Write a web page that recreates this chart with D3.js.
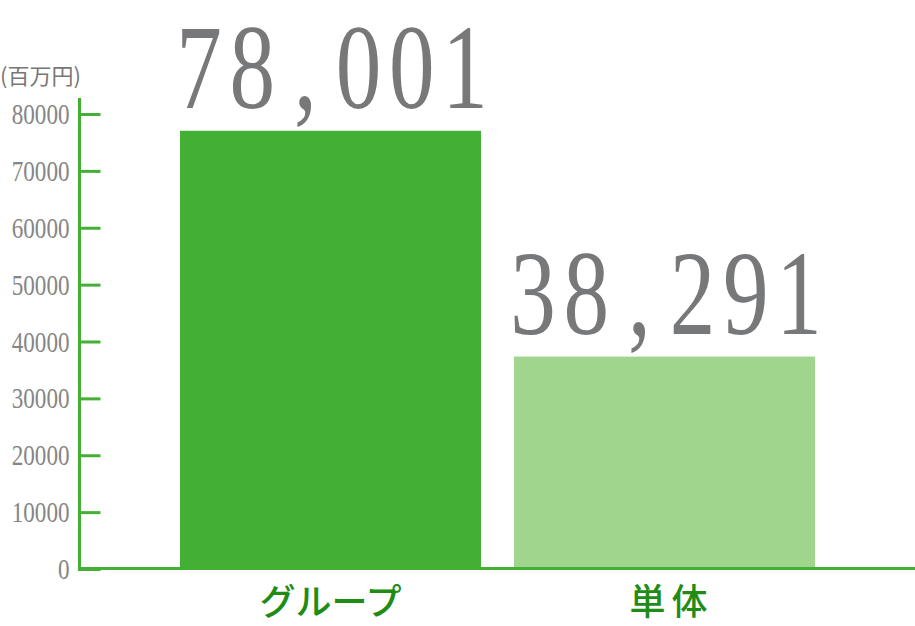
<!DOCTYPE html>
<html>
<head>
<meta charset="utf-8">
<script src="https://cdn.jsdelivr.net/npm/d3@7"></script>
<style>
  body { margin: 0; background: #fff; }
  svg { display: block; }
</style>
</head>
<body>
<div id="chart"></div>
<script>
// data
var categories = ["グループ", "単体"];
var barValues = [77050, 37350];          // bar heights as drawn
var valueLabels = ["78,001", "38,291"];  // printed figures above bars
var tickValues = [0, 10000, 20000, 30000, 40000, 50000, 60000, 70000, 80000];
var unitLabel = "(百万円)";
var barColors = ["#44af35", "#a0d58e"];

var svgWidth = 915;
var svgHeight = 626;

var svg = d3.select("#chart")
    .append("svg")
    .attr("width", svgWidth)
    .attr("height", svgHeight);

// scales
var yScale = d3.scaleLinear()
    .domain([0, 80000])
    .range([569, 114]);

var xScale = d3.scaleBand()
    .domain(categories)
    .range([180, 815])
    .paddingInner(0.0988)
    .paddingOuter(0);

var axisX = 79.5;
var green = "#44af35";

// y axis: ticks point inward, labels on the left
var leftAxis = d3.axisLeft(yScale)
    .tickValues(tickValues)
    .tickSizeInner(-21)
    .tickSizeOuter(0)
    .tickPadding(10)
    .tickFormat(d3.format("d"));

var yAxis = svg.append("g")
    .attr("transform", `translate(${axisX}, 0)`)
    .call(leftAxis);

yAxis.select(".domain").remove();
yAxis.selectAll(".tick line")
    .attr("stroke", green)
    .attr("stroke-width", 3);
yAxis.selectAll(".tick text")
    .attr("fill", "#858585")
    .attr("font-family", "'Liberation Serif', serif")
    .attr("font-size", 30)
    .attr("transform", "scale(0.77,1)")
    .attr("x", -10 / 0.77);

// bars
svg.append("g")
    .selectAll("rect")
    .data(categories)
    .enter()
    .append("rect")
    .attr("x", d => xScale(d))
    .attr("width", xScale.bandwidth())
    .attr("y", (d, i) => yScale(barValues[i]))
    .attr("height", (d, i) => yScale(0) - yScale(barValues[i]))
    .attr("fill", (d, i) => barColors[i]);

// axis lines
svg.append("line")
    .attr("x1", axisX).attr("x2", axisX)
    .attr("y1", 98).attr("y2", yScale(0) + 2)
    .attr("stroke", green)
    .attr("stroke-width", 3);

svg.append("line")
    .attr("x1", axisX - 1.5).attr("x2", svgWidth)
    .attr("y1", yScale(0) - 0.5).attr("y2", yScale(0) - 0.5)
    .attr("stroke", green)
    .attr("stroke-width", 3);

// big value labels, one glyph per slot so the spacing stays even
var valueGroup = svg.append("g");
categories.forEach(function(cat, i) {
    var chars = valueLabels[i].split("");
    var x0 = xScale(cat) + 19;
    var step = (xScale.bandwidth() - 35) / (chars.length - 1);
    var baseline = yScale(barValues[i]) - 23;
    valueGroup.selectAll(".v" + i)
        .data(chars)
        .enter()
        .append("text")
        .attr("transform", (c, j) => `translate(${x0 + j * step}, ${baseline}) scale(0.76,1)`)
        .attr("text-anchor", "middle")
        .attr("font-family", "'Liberation Serif', serif")
        .attr("font-size", 120)
        .attr("fill", "#77787a")
        .text(c => c);
});

// category labels
svg.append("g")
    .selectAll("text")
    .data(categories)
    .enter()
    .append("text")
    .attr("x", d => xScale(d) + xScale.bandwidth() / 2 + (d === "単体" ? 7 : 0))
    .attr("y", 615)
    .attr("text-anchor", "middle")
    .attr("font-family", "'Noto Sans CJK JP', sans-serif")
    .attr("font-size", 36)
    .attr("font-weight", 500)
    .attr("letter-spacing", d => d === "単体" ? 6 : 0)
    .attr("fill", "#1f8c15")
    .text(d => d);

// unit
svg.append("text")
    .attr("x", 0)
    .attr("y", 74)
    .attr("dominant-baseline", "central")
    .attr("font-family", "'Noto Sans CJK JP', sans-serif")
    .attr("font-size", 22)
    .attr("fill", "#777")
    .text(unitLabel);
</script>
</body>
</html>
